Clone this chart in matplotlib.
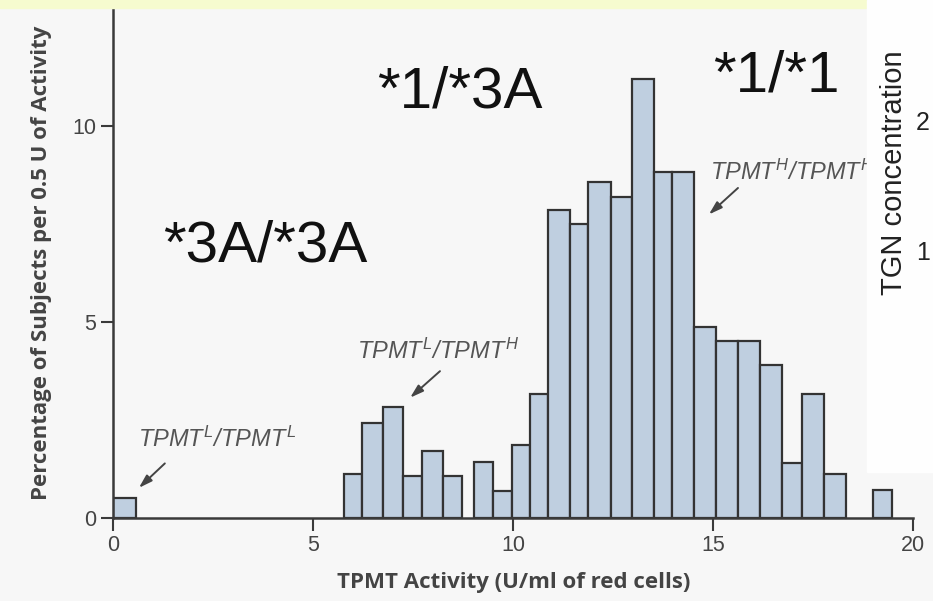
import matplotlib
matplotlib.use("Agg")
import matplotlib.pyplot as plt
from matplotlib.patches import Rectangle

plt.rcParams["font.family"] = ["Liberation Sans", "DejaVu Sans"]
plt.rcParams["mathtext.fontset"] = "custom"
plt.rcParams["mathtext.it"] = "Liberation Sans:italic"
plt.rcParams["mathtext.rm"] = "Liberation Sans:italic"

# TPMT activity bins (U/ml of red cells) and percentage of subjects
bin_lo = [0.0, 5.77, 6.23, 6.74, 7.24, 7.72, 8.24, 9.02, 9.50, 9.96, 10.42, 10.88, 11.42,
          11.88, 12.44, 12.97, 13.52, 13.98, 14.52, 15.08, 15.63, 16.17, 16.72, 17.22,
          17.76, 18.99]
bin_hi = [0.58, 6.23, 6.74, 7.24, 7.72, 8.24, 8.72, 9.50, 9.96, 10.42, 10.88, 11.42, 11.88,
          12.44, 12.97, 13.52, 13.98, 14.52, 15.08, 15.63, 16.17, 16.72, 17.22, 17.76,
          18.31, 19.48]
pct = [0.5, 1.13, 2.41, 2.82, 1.06, 1.72, 1.06, 1.44, 0.70, 1.86, 3.16, 7.84, 7.50,
       8.57, 8.18, 11.2, 8.83, 8.83, 4.86, 4.51, 4.51, 3.91, 1.40, 3.16, 1.12, 0.72]

genotypes = ["*3A/*3A", "*1/*3A", "*1/*1"]
genotype_pos = [(1.24, 6.54), (6.59, 10.47), (14.99, 10.87)]

phenotypes = [r"$TPMT^{L}/TPMT^{L}$", r"$TPMT^{L}/TPMT^{H}$", r"$TPMT^{H}/TPMT^{H}$"]
pheno_text = [(0.62, 2.0), (6.09, 4.24), (14.92, 8.8)]
pheno_tail = [(1.34, 1.44), (8.22, 3.79), (15.67, 8.46)]
pheno_head = [(0.59, 0.72), (7.37, 3.02), (14.84, 7.69)]

bg = "#f7f7f7"
ink = "#3a3a3a"
label_font = ["Open Sans", "Liberation Sans"]

fig = plt.figure(figsize=(9.33, 6.01), dpi=100, facecolor=bg)
ax = fig.add_axes([0.1214, 0.1381, 0.8574, 0.8486])
ax.set_facecolor(bg)

widths = [h - l for l, h in zip(bin_lo, bin_hi)]
ax.bar(bin_lo, pct, width=widths, align="edge", color="#bfcfe0",
       edgecolor="#333333", linewidth=1.6, zorder=2)

ax.set_xlim(0, 20)
ax.set_ylim(0, 13)
ax.set_xticks([0, 5, 10, 15, 20])
ax.set_yticks([0, 5, 10])
for s in ["top", "right"]:
    ax.spines[s].set_visible(False)
for s in ["left", "bottom"]:
    ax.spines[s].set_color(ink)
    ax.spines[s].set_linewidth(1.8)
    ax.spines[s].set_zorder(3)
ax.tick_params(direction="out", length=9, width=1.5, color=ink, labelsize=15.5,
               labelcolor="#444444")
for lab in ax.get_xticklabels() + ax.get_yticklabels():
    lab.set_family(["Liberation Sans Narrow", "Liberation Sans"])

ax.set_xlabel("TPMT Activity (U/ml of red cells)", fontsize=16, fontweight="bold",
              family=label_font, color="#444444", labelpad=11)
ax.set_ylabel("Percentage of Subjects per 0.5 U of Activity", fontsize=16,
              fontweight="bold", family=label_font, color="#444444", labelpad=14)

for name, (x, y) in zip(genotypes, genotype_pos):
    ax.text(x, y, name, fontsize=42, color="#111111", ha="left", va="baseline")

for name, txt, tail, head in zip(phenotypes, pheno_text, pheno_tail, pheno_head):
    ax.text(txt[0], txt[1], name, fontsize=17, color="#555555", ha="left", va="center")
    ax.annotate("", xy=head, xytext=tail,
                arrowprops=dict(arrowstyle="-|>,head_length=0.8,head_width=0.25",
                                color="#444444", lw=1.4))

# pale yellow strip on top and the neighbouring panel on the right
fig.patches.append(Rectangle((0, 1 - 8 / 601), 866 / 933, 8 / 601,
                             transform=fig.transFigure, color="#f6fbcf", zorder=5))
fig.patches.append(Rectangle((867 / 933, 1 - 472 / 601), 66 / 933, 472 / 601,
                             transform=fig.transFigure, color="#fefefe", zorder=5))
fig.text(894 / 933, 1 - 173 / 601, "TGN concentration", rotation=90, fontsize=21,
         color="#222222", ha="center", va="center", zorder=6)
fig.text(930 / 933, 1 - 123 / 601, "2", fontsize=18, color="#222222",
         ha="right", va="center", zorder=6)
fig.text(930 / 933, 1 - 253 / 601, "1", fontsize=18, color="#222222",
         ha="right", va="center", zorder=6)

fig.savefig("out.png", dpi=100, facecolor=bg)
